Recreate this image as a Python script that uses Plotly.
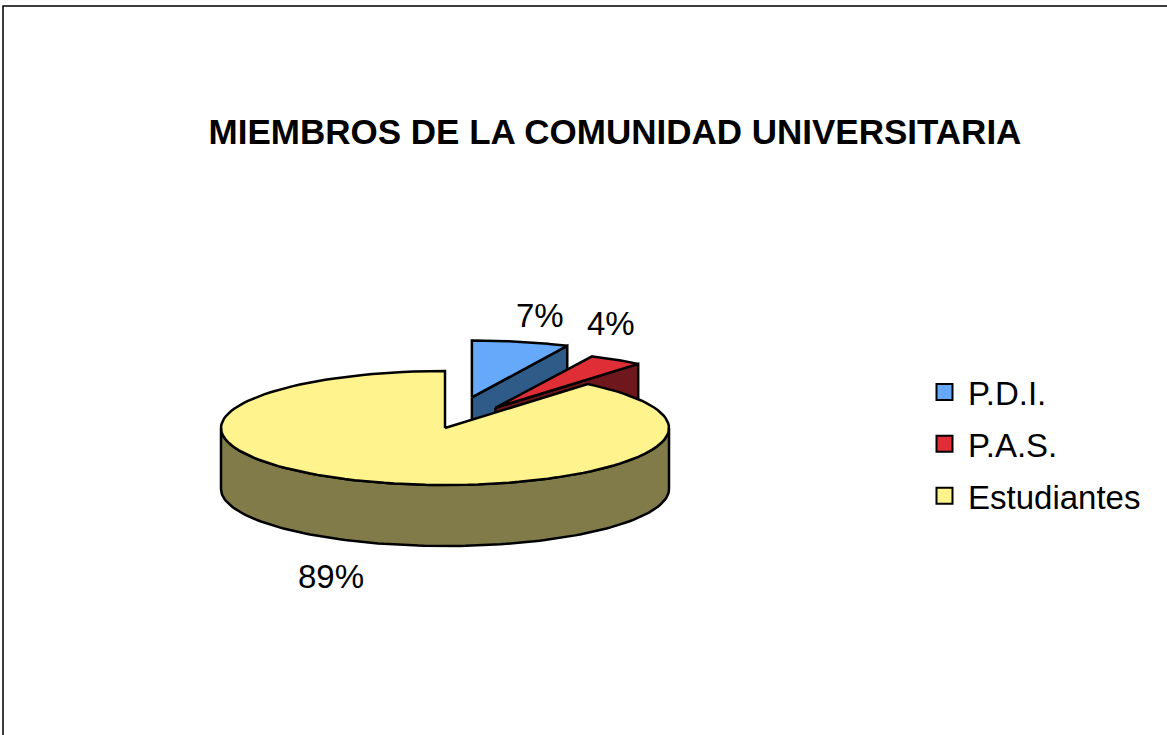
import numpy as np
import plotly.graph_objects as go

# ------------------------------------------------------------------
# Data
# ------------------------------------------------------------------
labels = ["P.D.I.", "P.A.S.", "Estudiantes"]
percents = [7, 4, 89]
pull = [0.55, 0.42, 0.0]

top_colors = ["#66A9FA", "#DF2E36", "#FFF38E"]
side_colors = ["#2F5B88", "#6E181D", "#807B48"]

title = "MIEMBROS DE LA COMUNIDAD UNIVERSITARIA"

# ------------------------------------------------------------------
# 3D pie geometry (canvas units, y grows downwards)
# ------------------------------------------------------------------
W, H = 1167, 735
CX, CY = 445, 428      # centre of the pie top face
A, B = 224, 57         # ellipse radii
DEPTH = 61             # thickness of the pie
FONT = "Liberation Sans, Arial, sans-serif"


def rim(cx, cy, th):
    return cx + A * np.sin(th), cy - B * np.cos(th)


def arc(cx, cy, t0, t1, n=120):
    th = np.linspace(t0, t1, n)
    return rim(cx, cy, th)


fig = go.Figure()

total = sum(percents)
start = 0.0
outline = dict(color="black", width=2.5)


def poly(xs, ys, color):
    fig.add_trace(
        go.Scatter(
            x=list(xs), y=list(ys),
            mode="lines", fill="toself", fillcolor=color,
            line=outline, hoverinfo="skip", showlegend=False,
        )
    )


for lab, pct, p, ctop, cside in zip(labels, percents, pull, top_colors, side_colors):
    t0 = start
    t1 = start + 2 * np.pi * pct / total
    start = t1
    tm = (t0 + t1) / 2

    # exploded centre
    cx = CX + p * A * np.sin(tm)
    cy = CY - p * B * np.cos(tm)

    # radial face at the end angle (visible when facing the viewer)
    if np.sin(t1) > 1e-6:
        rx, ry = rim(cx, cy, t1)
        poly([cx, rx, rx, cx, cx], [cy, ry, ry + DEPTH, cy + DEPTH, cy], cside)

    # outer wall on the front half
    f0, f1 = max(t0, np.pi / 2), min(t1, 1.5 * np.pi)
    if f1 > f0:
        ax_, ay_ = arc(cx, cy, f0, f1)
        xs = np.concatenate([ax_, ax_[::-1], ax_[:1]])
        ys = np.concatenate([ay_, ay_[::-1] + DEPTH, ay_[:1]])
        poly(xs, ys, cside)

    # top face
    ax_, ay_ = arc(cx, cy, t0, t1)
    poly(np.concatenate([[cx], ax_, [cx]]), np.concatenate([[cy], ay_, [cy]]), ctop)

    # percentage label, anchored off the un-exploded rim point (Excel style)
    px, py = rim(CX, CY, tm)
    right = np.sin(tm) >= 0
    front = np.cos(tm) < 0
    fig.add_annotation(
        x=px + (20 if right else -3),
        y=py + (DEPTH + 13 if front else -36),
        text=f"{pct}%", showarrow=False,
        font=dict(family=FONT, size=33, color="black"),
        xanchor="left" if right else "right",
        yanchor="top" if front else "bottom",
    )

# legend entries
for i, (lab, c) in enumerate(zip(labels, top_colors)):
    fig.add_trace(
        go.Scatter(
            x=[None], y=[None], mode="markers", name=lab,
            legendgroup=str(i),
            marker=dict(symbol="square", size=16, color=c,
                        line=dict(color="black", width=2)),
        )
    )

# chart border (right / bottom edges fall outside the window)
fig.add_shape(
    type="rect", xref="x", yref="y",
    x0=3, y0=6, x1=W + 40, y1=H + 40,
    line=dict(color="black", width=1.5),
)

fig.update_layout(
    width=W, height=H,
    margin=dict(l=0, r=0, t=0, b=0),
    paper_bgcolor="white", plot_bgcolor="white",
    title=dict(
        text=f"<b>{title}</b>",
        x=615 / W, y=1 - 132 / H, xanchor="center", yanchor="middle",
        font=dict(family=FONT, size=35, color="black"),
    ),
    xaxis=dict(range=[0, W], visible=False, fixedrange=True),
    yaxis=dict(range=[H, 0], visible=False, fixedrange=True),
    showlegend=True,
    legend=dict(
        x=921 / W, y=1 - 364 / H, xanchor="left", yanchor="top",
        font=dict(family=FONT, size=33, color="black"),
        tracegroupgap=6, itemsizing="trace", itemwidth=37,
        bgcolor="rgba(0,0,0,0)",
    ),
)

fig.write_html(
    "out.html",
    config={"displayModeBar": False},
    post_script="document.body.style.margin='0px';",
)
